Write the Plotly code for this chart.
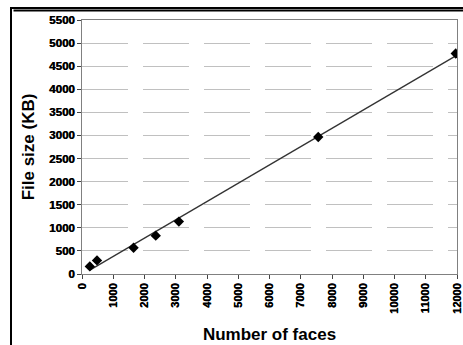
import numpy as np
import plotly.graph_objects as go

faces = [250, 480, 1650, 2360, 3100, 7560, 11960]
size_kb = [165, 295, 570, 830, 1135, 2965, 4775]
x_ticks = list(range(0, 12001, 1000))
y_ticks = list(range(0, 5501, 500))

coef = np.polyfit(faces, size_kb, 1)
fit_x = [min(faces), max(faces)]
fit_y = list(np.polyval(coef, fit_x))

W, H = 463, 345
FL, FT = 12, 9
PL, PR, PT, PB = 82, 457, 20, 274
paper_w, paper_h = W - FL, H - FT

fig = go.Figure()
fig.add_trace(go.Scatter(x=fit_x, y=fit_y, mode="lines",
                         line=dict(color="#333333", width=1.3), showlegend=False))
fig.add_trace(go.Scatter(x=faces, y=size_kb, mode="markers",
                         marker=dict(symbol="diamond", size=8, color="black"),
                         showlegend=False))
# invisible helper trace on a frame axis so its axis line draws the outer frame top
fig.add_trace(go.Scatter(x=[0], y=[0], xaxis="x2", yaxis="y2", mode="markers",
                         marker=dict(opacity=0), showlegend=False, hoverinfo="skip"))

font = "Liberation Sans, Arial, sans-serif"
tick_shadow = "0.5px 0px 0px black"
fig.update_layout(
    width=W, height=H,
    margin=dict(l=FL, r=0, t=FT, b=0, pad=0, autoexpand=False),
    paper_bgcolor="white", plot_bgcolor="rgba(0,0,0,0)",
    font=dict(family=font, color="black"),
    xaxis=dict(domain=[(PL - FL) / paper_w, (PR - FL) / paper_w],
               range=[0, 12000], tickvals=x_ticks,
               ticktext=[str(v) for v in x_ticks],
               tickangle=-90, ticks="outside", ticklen=4, tickcolor="#444444",
               showline=True, linecolor="#808080", linewidth=1, mirror=True,
               showgrid=False, zeroline=False, automargin=False,
               tickfont=dict(family=font, size=11, color="black", weight=700,
                             shadow=tick_shadow),
               title=dict(text="<b>Number of faces</b>", font=dict(size=17, family=font),
                          standoff=15)),
    yaxis=dict(domain=[(H - PB) / paper_h, (H - PT) / paper_h],
               range=[0, 5500], tickvals=y_ticks,
               ticktext=[str(v) for v in y_ticks],
               ticks="outside", ticklen=4, tickcolor="#444444",
               showline=True, linecolor="#808080", linewidth=1, mirror=True,
               showgrid=True, gridcolor="#c0c0c0", gridwidth=1, griddash="46px,15px",
               zeroline=False, automargin=False,
               tickfont=dict(family=font, size=11.5, color="black", weight=700,
                             shadow=tick_shadow),
               title=dict(text="<b>File size (KB)</b>", font=dict(size=17, family=font),
                          standoff=10)),
    xaxis2=dict(domain=[0, 1], anchor="y2", side="top", showline=True,
                linecolor="black", linewidth=2, showticklabels=False, ticks="",
                showgrid=False, zeroline=False, automargin=False, fixedrange=True),
    yaxis2=dict(domain=[0, 1], anchor="x2", side="left", showline=True,
                linecolor="black", linewidth=2, showticklabels=False, ticks="",
                showgrid=False, zeroline=False, automargin=False, fixedrange=True,
                mirror=False),
    shapes=[
        dict(type="line", xref="paper", yref="paper", x0=1.5 / paper_w, x1=1,
             y0=1 - 1.5 / paper_h, y1=1 - 1.5 / paper_h, layer="above",
             line=dict(color="black", width=2)),
    ],
)
fig.write_html("out.html", config={"displayModeBar": False},
               post_script="document.body.style.margin='0';document.body.style.padding='0';")
